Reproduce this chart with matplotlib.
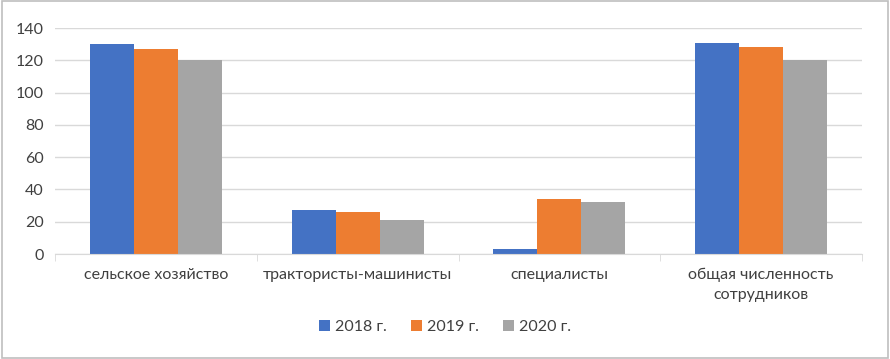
import matplotlib.pyplot as plt
import numpy as np
from matplotlib.patches import Rectangle

categories = ["сельское хозяйство", "трактористы-машинисты", "специалисты",
              "общая численность\nсотрудников"]
years = ["2018 г.", "2019 г.", "2020 г."]
v2018 = [130, 27, 3, 131]
v2019 = [127, 26, 34, 128]
v2020 = [120, 21, 32, 120]
colors = ["#4472c4", "#ed7d31", "#a5a5a5"]
yticks = [0, 20, 40, 60, 80, 100, 120, 140]

plt.rcParams["font.family"] = ["Lato", "DejaVu Sans"]
txt = "#404040"

fig = plt.figure(figsize=(8.9, 3.59), dpi=100)
ax = fig.add_axes([55 / 890, 1 - 254 / 359, 807 / 890, 226 / 359])

x = np.arange(len(categories))
w = 0.218
for i, (vals, lab, c) in enumerate(zip([v2018, v2019, v2020], years, colors)):
    ax.bar(x + (i - 1) * w, vals, width=w, color=c, label=lab, zorder=2)

ax.set_xlim(-0.5, len(categories) - 0.5)
ax.set_ylim(0, 140)
ax.set_yticks(yticks)
ax.yaxis.grid(True, color="#d9d9d9", lw=1, zorder=0)
for s in ["top", "right", "left"]:
    ax.spines[s].set_visible(False)
ax.spines["bottom"].set_color("#d9d9d9")
ax.tick_params(axis="y", length=0, labelsize=11.5, labelcolor=txt, pad=8)
ax.set_xticks(x)
ax.set_xticklabels(categories, fontsize=11.5, color=txt, linespacing=1.5)
ax.tick_params(axis="x", length=0, pad=10)
ax.set_xticks(np.arange(len(categories) + 1) - 0.5, minor=True)
ax.tick_params(axis="x", which="minor", length=5, color="#d9d9d9")

leg = fig.legend(loc="center", bbox_to_anchor=(445 / 890, 1 - 327 / 359), ncol=3,
                 frameon=False, fontsize=11.5, handlelength=0.7, handleheight=0.7,
                 handletextpad=0.3, columnspacing=1.5)
for t in leg.get_texts():
    t.set_color(txt)

fig.patches.append(Rectangle((0.002, 0.003), 0.996, 0.994, transform=fig.transFigure,
                             fill=False, edgecolor="#bfbfbf", lw=1.2))

fig.savefig("out.png", dpi=100, facecolor="white")
